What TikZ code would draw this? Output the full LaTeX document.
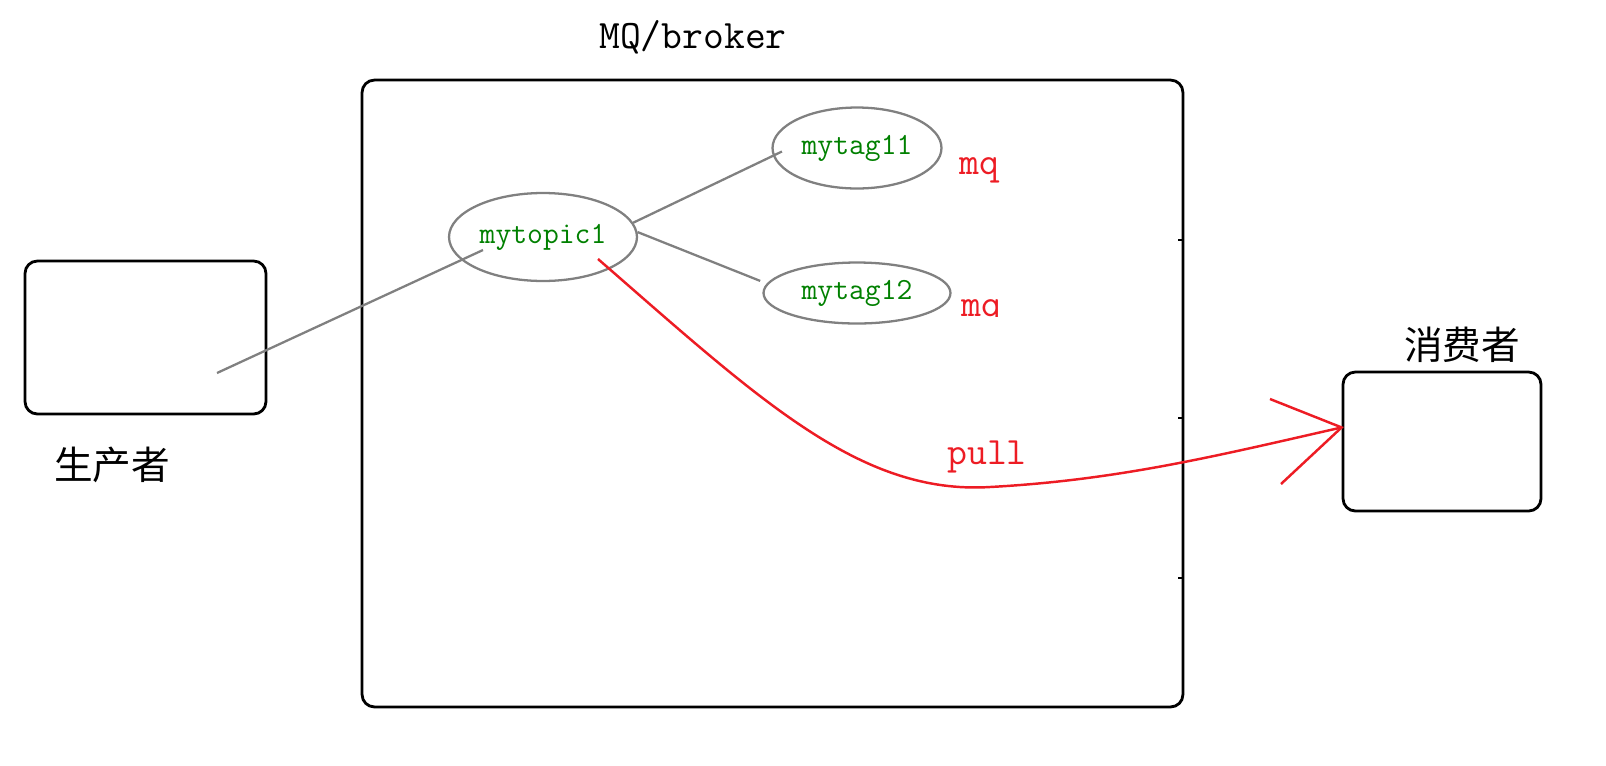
\documentclass[tikz,border=0pt]{standalone}
\usepackage{fontspec}
\newfontfamily\cjk{Noto Sans CJK SC}
\usetikzlibrary{shapes.geometric}
\definecolor{mqgray}{RGB}{128,128,128}
\definecolor{mqgreen}{RGB}{0,128,0}
\definecolor{mqred}{RGB}{237,28,36}

\begin{document}
\begin{tikzpicture}[
    x=0.02cm,
    y=-0.02cm,
    box/.style={rectangle, draw, rounded corners=7pt, line width=1.6pt},
    tagnode/.style={ellipse, draw=mqgray, line width=1.3pt, inner sep=0pt, text=mqgreen, font=\fontsize{17.5}{17.5}\selectfont\ttfamily},
    link/.style={draw=mqgray, line width=1.3pt},
    pullline/.style={draw=mqred, line width=1.4pt},
    redtext/.style={text=mqred, font=\fontsize{22}{22}\selectfont\ttfamily},
    title/.style={font=\fontsize{23}{23}\selectfont\ttfamily},
    cjktext/.style={font=\fontsize{22}{22}\selectfont\cjk}
  ]
  \useasboundingbox (0,0) rectangle (1606,765);

  % --- CAIXAS ---
  \node[box, minimum width=16.42cm, minimum height=12.54cm] (broker) at (772.5,393.5) {};
  \node[title] (brokerlabel) at (693,37) {MQ/broker};
  \node[box, minimum width=4.82cm, minimum height=3.06cm] (producer) at (145.5,337.5) {};
  \node[cjktext] (producerlabel) at (112,465) {生产者};
  \node[box, minimum width=3.96cm, minimum height=2.78cm] (consumer) at (1442,441.5) {};
  \node[cjktext] (consumerlabel) at (1462,345) {消费者};

  % marcas na borda direita
  \foreach \ty in {240,418,578}
    \draw[line width=1.2pt] (1178,\ty) -- (1183,\ty);

  % --- TOPIC / TAGS ---
  \node[tagnode, minimum width=3.76cm, minimum height=1.76cm] (topic1) at (543,237) {mytopic1};
  \node[tagnode, minimum width=3.38cm, minimum height=1.62cm] (tag11) at (857,148) {mytag11};
  \node[tagnode, minimum width=3.74cm, minimum height=1.22cm] (tag12) at (857,293) {mytag12};

  \node[redtext, anchor=base] (mq1) at (979,174) {mq};
  \begin{scope}
    \clip (940,280) rectangle (1020,316);
    \node[redtext, anchor=base] (mq2) at (981,316) {mq};
  \end{scope}

  % --- LIGACOES ---
  \coordinate (prodend) at (217,373);
  \coordinate (topicin) at (483,250);
  \draw[link] (prodend) -- (topicin);
  \draw[link] (topic1.9) -- ([xshift=6pt,yshift=-2pt]tag11.west);
  \draw[link, shorten >=4pt] (topic1.3) -- (tag12.174);

  % --- PULL ---
  \coordinate (pullstart) at (598,259);
  \coordinate (pulltip) at ([yshift=8pt]consumer.west);
  \coordinate (barbup) at (1270,399);
  \coordinate (barbdown) at (1281,484);
  \draw[pullline] (pullstart) .. controls (760,400) and (860,495) .. (990,487)
                  .. controls (1120,480) and (1220,455) .. (pulltip);
  \draw[pullline] (barbup) -- (pulltip) -- (barbdown);
  \node[redtext] (pulllabel) at (987,457) {pull};

\end{tikzpicture}
\end{document}
